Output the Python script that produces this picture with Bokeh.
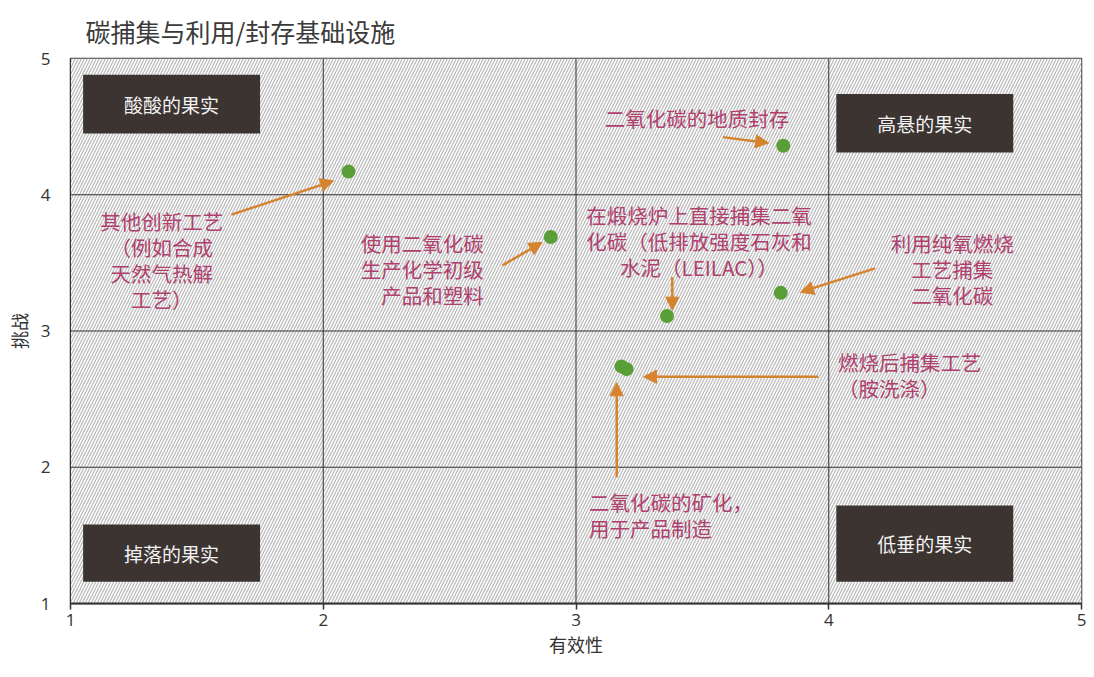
from bokeh.plotting import figure
from bokeh.models import ColumnDataSource, Arrow, NormalHead, FixedTicker
from bokeh.core.properties import value
from bokeh.embed import file_html
from bokeh.resources import INLINE

# ---- data ----
title_text = "碳捕集与利用/封存基础设施"
ticks = [1, 2, 3, 4, 5]
point_x = [2.10, 2.90, 3.82, 3.36, 3.81, 3.18, 3.20]
point_y = [4.17, 3.69, 4.36, 3.11, 3.28, 2.74, 2.72]

quad_labels = ["酸酸的果实", "高悬的果实", "掉落的果实", "低垂的果实"]
quad_left = [1.05, 4.03, 1.05, 4.03]
quad_right = [1.75, 4.73, 1.75, 4.73]
quad_top = [4.88, 4.74, 1.58, 1.72]
quad_bottom = [4.45, 4.31, 1.16, 1.16]

ann_text = [
    "二氧化碳的地质封存",
    "在煅烧炉上直接捕集二氧\n化碳（低排放强度石灰和\n水泥（LEILAC））",
    "利用纯氧燃烧\n工艺捕集\n二氧化碳",
    "燃烧后捕集工艺\n（胺洗涤）",
    "二氧化碳的矿化，\n用于产品制造",
    "使用二氧化碳\n生产化学初级\n产品和塑料",
    "其他创新工艺\n（例如合成\n天然气热解\n工艺）",
]
ann_x = [3.114, 3.487, 4.489, 4.037, 3.051, 2.635, 1.361]
ann_y = [4.562, 3.960, 3.755, 2.880, 1.858, 3.755, 3.916]
ann_align = ["left", "center", "center", "left", "left", "right", "center"]
ann_baseline = ["middle", "top", "top", "top", "top", "top", "top"]

arrow_x0 = [1.637, 2.709, 3.581, 3.381, 4.183, 3.959, 3.161]
arrow_y0 = [3.854, 3.482, 4.423, 3.394, 3.460, 2.664, 1.927]
arrow_x1 = [2.041, 2.866, 3.762, 3.381, 3.888, 3.267, 3.161]
arrow_y1 = [4.102, 3.650, 4.380, 3.153, 3.285, 2.664, 2.620]

CJK = "Noto Sans CJK SC"

p = figure(width=1086, height=661, x_range=(1, 5), y_range=(1, 5),
           output_backend="svg", toolbar_location=None,
           min_border_left=70, min_border_right=5, min_border_top=57,
           min_border_bottom=58, title=title_text)
p.title.text_font = CJK
p.title.text_font_size = "25px"
p.title.text_font_style = "normal"
p.title.text_color = "#3a3a3a"
p.title.offset = 15
p.title.standoff = 20

p.outline_line_color = "#333333"
p.outline_line_width = 1.5
p.xgrid.visible = False
p.ygrid.visible = False

# hatched background
p.quad(left=[ticks[0]], right=[ticks[-1]], bottom=[ticks[0]], top=[ticks[-1]],
       fill_color="white", line_color=None,
       hatch_pattern="right_diagonal_line", hatch_color="#bcbcbc",
       hatch_scale=6, hatch_weight=1.3)

# grid lines
inner = ticks[1:-1]
p.segment(x0=inner, x1=inner, y0=[ticks[0]] * len(inner), y1=[ticks[-1]] * len(inner),
          line_color="#333333", line_width=1)
p.segment(x0=[ticks[0]] * len(inner), x1=[ticks[-1]] * len(inner), y0=inner, y1=inner,
          line_color="#333333", line_width=1)

# quadrant boxes
qsrc = ColumnDataSource(dict(left=quad_left, right=quad_right, top=quad_top,
                             bottom=quad_bottom, label=quad_labels,
                             cx=[(a + b) / 2 for a, b in zip(quad_left, quad_right)],
                             cy=[(a + b) / 2 for a, b in zip(quad_top, quad_bottom)]))
p.quad(left="left", right="right", top="top", bottom="bottom", source=qsrc,
       fill_color="#3b3431", line_color=None)
p.text(x="cx", y="cy", text="label", source=qsrc, text_align="center",
       text_baseline="middle", text_color="#f2f2f2", text_font=value(CJK),
       text_font_size="19px")

# points
p.scatter(point_x, point_y, size=14, fill_color="#5a9e37", line_color=None)

# annotation texts
asrc = ColumnDataSource(dict(x=ann_x, y=ann_y, text=ann_text, align=ann_align,
                             baseline=ann_baseline))
p.text(x="x", y="y", text="text", source=asrc, text_align="align",
       text_baseline="baseline", text_color="#b0406e", text_font=value(CJK),
       text_font_size="20.5px", text_line_height=0.87)

# arrows
for x0, y0, x1, y1 in zip(arrow_x0, arrow_y0, arrow_x1, arrow_y1):
    p.add_layout(Arrow(x_start=x0, y_start=y0, x_end=x1, y_end=y1,
                       line_color="#d6832e", line_width=2.5,
                       end=NormalHead(size=13, fill_color="#d6832e",
                                      line_color="#d6832e")))

for ax in (p.xaxis[0], p.yaxis[0]):
    ax.ticker = FixedTicker(ticks=ticks)
    ax.major_label_text_font = "Open Sans"
    ax.major_label_text_font_size = "17px"
    ax.major_label_text_color = "#333333"
    ax.axis_label_text_font = CJK
    ax.axis_label_text_font_size = "18px"
    ax.axis_label_text_font_style = "normal"
    ax.axis_label_text_color = "#333333"
    ax.minor_tick_line_color = None
    ax.axis_line_color = "#333333"

p.xaxis.axis_label = "有效性"
p.yaxis.axis_label = "挑战"
p.xaxis.axis_line_width = 2
p.xaxis.major_tick_out = 6
p.xaxis.major_tick_in = 0
p.xaxis.major_tick_line_color = "#333333"
p.xaxis.major_tick_line_width = 1.5
p.xaxis.major_label_standoff = 4
p.xaxis.axis_label_standoff = 2
p.yaxis.major_tick_out = 0
p.yaxis.major_tick_in = 0
p.yaxis.major_label_standoff = 20
p.yaxis.axis_label_standoff = 6

open("out.html", "w").write(file_html(p, INLINE))
